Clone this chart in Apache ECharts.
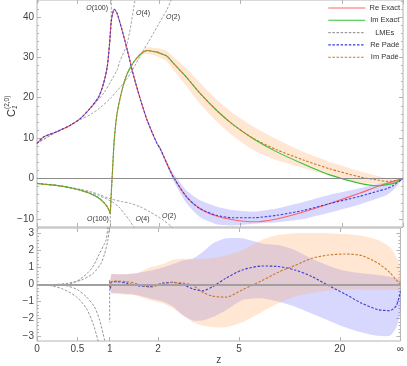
<!DOCTYPE html>
<html><head><meta charset="utf-8">
<script src="https://cdn.jsdelivr.net/npm/echarts@6/dist/echarts.min.js"></script>
<style>html,body{margin:0;padding:0;background:#fff}#c{width:407px;height:366px}</style>
</head><body><div id="c"></div>
<script>
// ---------------- data ----------------
const xTickZ = [0, 0.5, 1, 2, 5, 20, Infinity];
const xTickLabels = ['0', '0.5', '1', '2', '5', '20', '\u221e'];
const yTopTicks = [-10, 0, 10, 20, 30, 40];
const yTopMinor = [-12, -8, -6, -4, -2, 2, 4, 6, 8, 12, 14, 16, 18, 22, 24, 26, 28, 32, 34, 36, 38, 42, 44];
const yBotTicks = [-3, -2, -1, 0, 1, 2, 3];
const yBotMinor = [-2.8, -2.6, -2.4, -2.2, -1.8, -1.6, -1.4, -1.2, -0.8, -0.6, -0.4, -0.2, 0.2, 0.4, 0.6, 0.8, 1.2, 1.4, 1.6, 1.8, 2.2, 2.4, 2.6, 2.8];

// top panel: common z grid
const zTop = [0, 0.075, 0.23, 0.4, 0.54, 0.68, 0.81, 0.89, 0.95, 0.99, 1.0, 1.015, 1.04, 1.07, 1.12, 1.21, 1.31, 1.44, 1.58, 1.72, 1.95, 2.03, 2.2, 2.38, 2.77, 3.2, 3.85, 4.6, 5.8, 7.6, 10.7, 16, 30, 55, 87, 150, Infinity];
const reExact = [8.7, 10.3, 11.6, 13.2, 14.9, 17.4, 20.2, 23.6, 27.7, 33.5, 35.5, 38.5, 40.8, 41.9, 40.9, 36.8, 31.8, 25.2, 19.4, 14.5, 8.7, 7.4, 3.7, 0.3, -4.6, -7.4, -9.3, -10.2, -10.7, -10.0, -8.3, -6.2, -3.6, -1.9, -1.2, -0.7, 0];
const rePade = [8.7, 10.3, 11.6, 13.2, 14.9, 17.4, 20.2, 23.6, 27.7, 33.5, 35.5, 38.5, 40.8, 41.9, 40.9, 36.8, 31.8, 25.2, 19.4, 14.5, 8.7, 7.4, 3.7, 0.3, -4.6, -7.4, -9.1, -9.7, -9.7, -9.1, -7.9, -6.2, -4.4, -3.1, -2.5, -1.7, 0];
const imExact = [-1.2, -1.4, -1.7, -2.3, -2.9, -3.7, -4.8, -5.9, -7.0, -8.2, -8.7, -4.5, 2.0, 9.5, 16.1, 21.9, 26.0, 28.9, 30.8, 31.7, 31.3, 31.0, 30.3, 28.5, 25.0, 21.2, 16.9, 13.4, 9.8, 6.6, 3.6, 0.9, -1.2, -1.8, -1.5, -1.2, 0];
const imPade = [-1.2, -1.4, -1.7, -2.3, -2.9, -3.7, -4.8, -5.9, -7.0, -8.2, -8.7, -4.5, 2.0, 9.5, 16.1, 21.9, 26.0, 28.9, 30.8, 31.7, 31.3, 31.0, 30.3, 28.5, 25.0, 21.2, 16.9, 13.4, 9.9, 7.1, 4.6, 2.4, 0.4, -0.4, -0.7, -0.6, 0];
const reBandHalf = [0, 0, 0, 0, 0, 0, 0, 0, 0, 0, 0, 0, 0, 0, 0, 0, 0, 0, 0, 0, 0, 0.3, 0.6, 0.9, 1.6, 2.1, 2.2, 1.9, 1.5, 1.7, 2.1, 2.2, 2.0, 1.8, 1.6, 1.1, 0];
const imBandHalf = [0, 0, 0, 0, 0, 0, 0, 0, 0, 0, 0, 0, 0, 0, 0, 0, 0, 0, 0.4, 0.8, 1.0, 1.1, 1.3, 1.6, 2.2, 2.6, 2.7, 2.8, 2.9, 2.6, 2.0, 1.7, 1.4, 1.0, 0.7, 0.4, 0];

// top panel LMEs
const lmeUp100Z = [0, 0.075, 0.23, 0.4, 0.54, 0.68, 0.81, 0.89, 0.95, 0.99, 1.0, 1.015, 1.03];
const lmeUp100V = [8.7, 10.3, 11.6, 13.2, 14.9, 17.4, 20.2, 23.6, 27.7, 33.5, 35.5, 38.5, 60];
const lmeUp4Z = [0, 0.23, 0.4, 0.54, 0.68, 0.81, 0.9, 1.0, 1.12, 1.17, 1.31, 1.46, 1.6];
const lmeUp4V = [8.7, 11.6, 13.2, 14.9, 17.3, 19.6, 21.3, 23.8, 26.9, 29.0, 33.5, 44, 55];
const lmeUp2Z = [0, 0.23, 0.4, 0.54, 0.7, 0.83, 1.0, 1.12, 1.31, 1.44, 1.6, 1.75, 1.95, 2.2, 2.4];
const lmeUp2V = [8.7, 11.6, 13.2, 14.6, 16.0, 17.5, 19.8, 21.7, 24.8, 27.5, 31.0, 33.8, 37.5, 41.8, 46];
const lmeLo100Z = [0, 0.075, 0.23, 0.4, 0.54, 0.68, 0.81, 0.89, 0.95, 0.99, 1.0, 1.02];
const lmeLo100V = [-1.2, -1.4, -1.7, -2.3, -2.9, -3.7, -4.8, -5.9, -7.0, -8.2, -8.7, -30];
const lmeLo4Z = [0, 0.23, 0.4, 0.54, 0.68, 0.81, 0.9, 1.04, 1.15, 1.25, 1.35, 1.45, 1.55];
const lmeLo4V = [-1.2, -1.7, -2.3, -2.8, -3.5, -4.2, -4.8, -5.8, -7.0, -8.6, -10.3, -12.2, -14];
const lmeLo2Z = [0, 0.23, 0.4, 0.54, 0.68, 0.81, 1.0, 1.2, 1.36, 1.57, 1.79, 2.11, 2.33, 2.5];
const lmeLo2V = [-1.2, -1.7, -2.2, -2.7, -3.2, -3.9, -5.0, -5.7, -6.1, -7.0, -8.3, -10.3, -12, -13.5];

// bottom panel: common z grid
const zBot = [0, 0.99, 1.0, 1.015, 1.03, 1.12, 1.31, 1.5, 1.8, 2.12, 2.4, 2.68, 3.0, 3.35, 3.75, 4.33, 5.2, 6.5, 7.9, 9.8, 12.4, 16.2, 22.3, 33.5, 61, 132, 360, Infinity];
const reDiff = [0, 0, -0.05, -0.25, 0.15, 0.17, 0.08, -0.06, -0.12, 0.08, 0.13, 0, -0.26, -0.37, -0.12, 0.37, 0.85, 1.08, 1.05, 0.85, 0.47, -0.06, -0.56, -1.09, -1.47, -1.53, -1.22, -0.4];
const imDiff = [0, 0, 0.25, -0.1, 0.15, 0.2, 0.17, 0.06, -0.16, 0.04, 0.12, 0.08, -0.05, -0.45, -0.68, -0.74, -0.31, 0.22, 0.72, 1.12, 1.53, 1.72, 1.78, 1.69, 1.24, 0.7, 0.25, 0];
const reDiffLo = [0, 0, -0.1, -0.4, -0.5, -0.5, -0.55, -0.6, -0.8, -1.0, -1.3, -1.8, -2.1, -2.1, -1.9, -1.5, -0.9, -0.8, -1.0, -1.3, -1.7, -2.1, -2.5, -2.8, -3.0, -3.0, -2.5, -1.5];
const reDiffHi = [0, 0, 0.1, 0.3, 0.6, 0.6, 0.6, 0.65, 0.8, 1.0, 1.2, 1.4, 1.5, 1.9, 2.4, 2.7, 2.7, 2.4, 2.3, 2.0, 1.5, 1.1, 0.8, 0.65, 0.55, 0.45, 0.35, 0.3];
const imDiffLo = [0, 0, -0.1, -0.3, -0.5, -0.55, -0.6, -0.65, -0.9, -1.1, -1.4, -1.8, -2.2, -2.4, -2.5, -2.5, -2.2, -1.6, -1.1, -0.7, -0.5, -0.35, -0.3, -0.3, -0.3, -0.3, -0.3, -0.3];
const imDiffHi = [0, 0, 0.3, 0.3, 0.6, 0.6, 0.6, 0.65, 1.0, 1.2, 1.45, 1.5, 1.5, 1.5, 1.55, 1.7, 2.0, 2.6, 2.9, 3.0, 3.0, 3.0, 2.95, 2.85, 2.6, 2.2, 1.6, 1.0];

// bottom panel LMEs
const lmeBA_Z = [0, 0.15, 0.4, 0.58, 0.72, 0.83, 0.9, 0.94, 0.975];
const lmeBA_V = [0, 0, 0.03, 0.44, 1.0, 1.8, 2.3, 2.6, 3.5];
const lmeBB_Z = [0, 0.2, 0.354, 0.55, 0.728, 0.85, 0.914, 0.969, 1.0];
const lmeBB_V = [0, 0, 0.06, 0.25, 0.64, 1.2, 1.8, 2.58, 3.5];
const lmeBC_Z = [0, 0.147, 0.3, 0.487, 0.63, 0.728, 0.805, 0.83];
const lmeBC_V = [0, -0.06, -0.25, -0.72, -1.4, -2.27, -3.24, -3.6];
const lmeBD_Z = [0, 0.2, 0.354, 0.5, 0.629, 0.75, 0.833, 0.914, 0.94];
const lmeBD_V = [0, -0.02, -0.08, -0.3, -0.72, -1.3, -2.08, -3.24, -3.6];
const lmeBE_Z = [1.0, 1.0];
const lmeBE_V = [0, -2.2];

// ---------------- chart ----------------
const FONT = 'Liberation Sans, Arial, sans-serif';
const toT = z => (isFinite(z) ? z / (z + 4) : 1);
const pairs = (zs, vs) => zs.map((z, i) => [toT(z), vs[i]]);
const xTickT = xTickZ.map(toT);
const C = { red: '#ff6464', green: '#36c236', gray: '#9a9a9a', blue: '#3c3cd6', orange: '#c8782e',
  blueBand: 'rgba(110,110,255,0.27)', orangeBand: 'rgba(255,170,100,0.28)', frame: '#b4b4b4' };

function xAx(grid, pos, labels) {
  return {
    type: 'value', gridIndex: grid, position: pos, min: 0, max: 1,
    splitLine: { show: false }, axisLine: { show: false, onZero: false },
    axisTick: { show: true, inside: true, length: 4, customValues: xTickT, lineStyle: { color: C.frame } },
    axisLabel: labels ? {
      show: true, customValues: xTickT, margin: 3, fontSize: 10, color: '#444', fontFamily: FONT,
      formatter: v => { const i = xTickT.findIndex(t => Math.abs(t - v) < 1e-9); return i >= 0 ? xTickLabels[i] : ''; }
    } : { show: false },
    name: labels ? 'z' : '', nameLocation: 'middle', nameGap: 12,
    nameTextStyle: { fontSize: 10, color: '#444', fontFamily: FONT }
  };
}
function yAx(grid, pos, min, max, vals, len, labels) {
  return {
    type: 'value', gridIndex: grid, position: pos, min: min, max: max,
    splitLine: { show: false }, axisLine: { show: false, onZero: false },
    axisTick: { show: true, inside: true, length: len, customValues: vals, lineStyle: { color: C.frame } },
    axisLabel: labels ? {
      show: true, customValues: vals, margin: 3, fontSize: 10, color: '#444', fontFamily: FONT,
      formatter: v => (v < 0 ? '\u2212' + (-v) : String(v))
    } : { show: false }
  };
}

function line(name, data, color, dashed, xi, yi, extra) {
  return Object.assign({
    name: name, type: 'line', data: data, xAxisIndex: xi, yAxisIndex: yi,
    symbol: 'none', showSymbol: false, smooth: 0.25, animation: false, silent: true,
    lineStyle: { color: color, width: 1.1, type: dashed ? [2.5, 1.6] : 'solid' },
    itemStyle: { color: color }
  }, extra || {});
}
// confidence band drawn as one polygon through the library's coordinate system
function band(name, zs, lo, hi, color, xi, yi, extra) {
  const keep = zs.map((z, i) => (hi[i] - lo[i] > 0) || (i > 0 && hi[i - 1] - lo[i - 1] > 0) || (i < zs.length - 1 && hi[i + 1] - lo[i + 1] > 0));
  const pts = zs.map((z, i) => [toT(z), lo[i], hi[i]]).filter((p, i) => keep[i]);
  return Object.assign({
    name: name, type: 'custom', xAxisIndex: xi, yAxisIndex: yi, data: pts, silent: true, animation: false,
    encode: { x: 0, y: [1, 2] }, clip: true,
    renderItem: (params, api) => {
      if (params.dataIndex !== 0) return null;
      const up = pts.map(p => api.coord([p[0], p[2]]));
      const dn = pts.map(p => api.coord([p[0], p[1]])).reverse();
      return { type: 'polygon', shape: { points: up.concat(dn), smooth: 0.2 }, style: { fill: color }, silent: true };
    }
  }, extra || {});
}

const zeroLine = w => ({ silent: true, symbol: ['none', 'none'], label: { show: false },
  lineStyle: { color: '#8c8c8c', width: w, type: 'solid' }, data: [{ yAxis: 0 }] });

const series = [];
series.push(line('zeroTop', [], '#888', false, 0, 0, { markLine: zeroLine(1) }));
series.push(band('bandReTop', zTop, rePade.map((v, i) => v - reBandHalf[i]), rePade.map((v, i) => v + reBandHalf[i]), C.blueBand, 0, 0));
series.push(band('bandImTop', zTop, imPade.map((v, i) => v - imBandHalf[i]), imPade.map((v, i) => v + imBandHalf[i]), C.orangeBand, 0, 0));
[[lmeUp100Z, lmeUp100V], [lmeUp4Z, lmeUp4V], [lmeUp2Z, lmeUp2V], [lmeLo100Z, lmeLo100V], [lmeLo4Z, lmeLo4V], [lmeLo2Z, lmeLo2V]]
  .forEach(([zs, vs]) => series.push(line('LMEs', pairs(zs, vs), C.gray, true, 0, 0, { lineStyle: { color: C.gray, width: 0.9, type: [2.5, 1.6] } })));
series.push(line('Re Exact', pairs(zTop, reExact), C.red, false, 0, 0));
series.push(line('Im Exact', pairs(zTop, imExact), C.green, false, 0, 0));
series.push(line('Re Padé', pairs(zTop, rePade), C.blue, true, 0, 0));
series.push(line('Im Padé', pairs(zTop, imPade), C.orange, true, 0, 0));

series.push(band('bandReBot', zBot, reDiffLo, reDiffHi, C.blueBand, 2, 4));
series.push(band('bandImBot', zBot, imDiffLo, imDiffHi, C.orangeBand, 2, 4));
series.push(line('zeroBot', [], '#999', false, 2, 4, { markLine: Object.assign(zeroLine(2), { lineStyle: { color: '#a0a0a0', width: 2, type: 'solid' } }) }));
[[lmeBA_Z, lmeBA_V], [lmeBB_Z, lmeBB_V], [lmeBC_Z, lmeBC_V], [lmeBD_Z, lmeBD_V], [lmeBE_Z, lmeBE_V]]
  .forEach(([zs, vs]) => series.push(line('LMEs', pairs(zs, vs), C.gray, true, 2, 4, { lineStyle: { color: '#8a8a8a', width: 0.9, type: [2.5, 1.6] } })));
series.push(line('Re Padé', pairs(zBot, reDiff), C.blue, true, 2, 4));
series.push(line('Im Padé', pairs(zBot, imDiff), C.orange, true, 2, 4));

const lbl = (text, x, y, align) => ({
  type: 'text', x: x, y: y, silent: true,
  style: { text: '{i|O}(' + text + ')', align: align || 'center', verticalAlign: 'middle',
    fontSize: 7, fontFamily: FONT, fill: '#333', rich: { i: { fontStyle: 'italic', fontSize: 7, fontFamily: FONT, fill: '#333' } } }
});

const option = {
  backgroundColor: '#fff',
  animation: false,
  grid: [
    { left: 37, right: 4, top: 0, height: 227, show: true, borderColor: C.frame, borderWidth: 1 },
    { left: 37, right: 4, top: 228, height: 113, show: true, borderColor: C.frame, borderWidth: 1 }
  ],
  xAxis: [xAx(0, 'bottom', false), xAx(0, 'top', false), xAx(1, 'bottom', true), xAx(1, 'top', false)],
  yAxis: [
    yAx(0, 'left', -12, 44.2, yTopTicks, 4, true), yAx(0, 'left', -12, 44.2, yTopMinor, 2, false),
    yAx(0, 'right', -12, 44.2, yTopTicks, 4, false), yAx(0, 'right', -12, 44.2, yTopMinor, 2, false),
    yAx(1, 'left', -3.3, 3.3, yBotTicks, 4, true), yAx(1, 'left', -3.3, 3.3, yBotMinor, 2, false),
    yAx(1, 'right', -3.3, 3.3, yBotTicks, 4, false), yAx(1, 'right', -3.3, 3.3, yBotMinor, 2, false)
  ],
  legend: {
    orient: 'vertical', right: 7, top: 4, padding: 0, itemWidth: 37, itemHeight: 8, itemGap: 4.3,
    data: ['Re Exact', 'Im Exact', 'LMEs', 'Re Padé', 'Im Padé'],
    selectedMode: false,
    itemStyle: { opacity: 0, borderWidth: 0 },
    lineStyle: { width: 1.1 },
    formatter: n => '{a|' + n + '}',
    textStyle: { fontSize: 7.5, color: '#333', fontFamily: FONT, lineHeight: 8,
      rich: { a: { width: 29, align: 'center', fontSize: 7.5, lineHeight: 8, fontFamily: FONT, color: '#333' } } }
  },
  graphic: [
    { type: 'group', x: 12, y: 117, rotation: Math.PI / 2, silent: true, children: [
      { type: 'text', x: 0, y: 0, style: { text: 'C', fontSize: 11, fontFamily: FONT, fill: '#333', align: 'left', verticalAlign: 'middle' } },
      { type: 'text', x: 8, y: -5, style: { text: '(2,0)', fontSize: 6.5, fontFamily: FONT, fill: '#333', align: 'left', verticalAlign: 'middle' } },
      { type: 'text', x: 8, y: 3.5, style: { text: '1', fontSize: 6.5, fontFamily: FONT, fontStyle: 'italic', fill: '#333', align: 'left', verticalAlign: 'middle' } }
    ] },
    lbl('100', 108, 8.5, 'right'), lbl('4', 143, 13.5), lbl('2', 173, 17.5),
    lbl('100', 98, 219.5), lbl('4', 142.5, 219.5), lbl('2', 169, 216)
  ],
  series: series
};

const chart = echarts.init(document.getElementById('c'), null, { renderer: 'canvas' });
chart.setOption(option);
</script></body></html>
